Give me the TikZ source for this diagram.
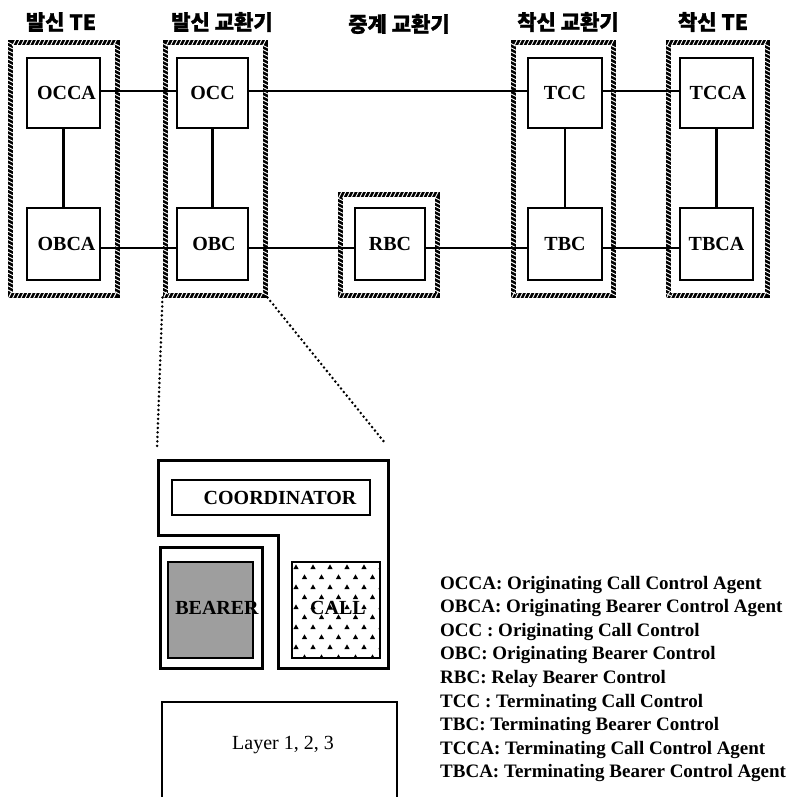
\documentclass[tikz,border=0pt]{standalone}
\usepackage{fontspec}
\usetikzlibrary{decorations.markings}
\setmainfont{Liberation Serif}
\newfontfamily\kr{Noto Sans CJK KR}[BoldFeatures={FakeBold=1.2}]
\begin{document}
\begin{tikzpicture}[x=1pt,y=-1pt,
  grp/.style={draw=black, line width=5pt, rectangle, inner sep=0pt,
    postaction={decorate, decoration={markings,
      mark=between positions 0 and 1 step 4.2pt with {\draw[white, line width=0.9pt] (-1.6pt,-3.2pt) -- (1.6pt,3.2pt);}}}},
  box/.style={draw=black, line width=2.6pt, rectangle, inner sep=0pt, fill=white,
    font=\fontsize{20}{24}\selectfont\bfseries},
  conn/.style={line width=2.2pt},
  hdr/.style={font=\kr\bfseries\fontsize{21}{24}\selectfont, inner sep=0pt},
  zoomline/.style={line width=2.8pt, line cap=round, dash pattern=on 0pt off 4.5pt},
  thickline/.style={line width=3pt},
  lbl/.style={font=\fontsize{20}{24}\selectfont\bfseries, inner sep=0pt},
  legend/.style={font=\fontsize{19}{23}\selectfont\bfseries, inner sep=0pt, anchor=base west}
]
\useasboundingbox (0,0) rectangle (801,797);

% headers
\node[hdr] (h1) at (61,22) {발신 TE};
\node[hdr] (h2) at (222,22) {발신 교환기};
\node[hdr] (h3) at (399,24) {중계 교환기};
\node[hdr] (h4) at (568,22) {착신 교환기};
\node[hdr] (h5) at (713,22) {착신 TE};

% group frames
\node[grp, minimum width=107pt, minimum height=252pt] (G1) at (63.5,169) {};
\node[grp, minimum width=100pt, minimum height=252pt] (G2) at (215,169) {};
\node[grp, minimum width=97pt, minimum height=100pt] (G3) at (388.5,245) {};
\node[grp, minimum width=100pt, minimum height=252pt] (G4) at (563,169) {};
\node[grp, minimum width=99pt, minimum height=252pt] (G5) at (717.5,169) {};

% boxes
\node[box, minimum width=73pt, minimum height=70pt] (OCCA) at (63.5,93) {\hspace*{6pt}OCCA};
\node[box, minimum width=73pt, minimum height=72pt] (OBCA) at (63.5,244) {\hspace*{6pt}OBCA};
\node[box, minimum width=71pt, minimum height=70pt] (OCC) at (212.5,93) {OCC};
\node[box, minimum width=71pt, minimum height=72pt] (OBC) at (212.5,244) {\hspace*{3pt}OBC};
\node[box, minimum width=70pt, minimum height=72pt] (RBC) at (390,244) {RBC};
\node[box, minimum width=74pt, minimum height=70pt] (TCC) at (565,93) {TCC};
\node[box, minimum width=74pt, minimum height=72pt] (TBC) at (565,244) {TBC};
\node[box, minimum width=73pt, minimum height=70pt] (TCCA) at (716.5,93) {\hspace*{3pt}TCCA};
\node[box, minimum width=73pt, minimum height=72pt] (TBCA) at (716.5,244) {TBCA};

\draw[conn] ([yshift=2pt]OCCA.east) -- ([yshift=2pt]OCC.west);
\draw[conn] ([yshift=2pt]OCC.east) -- ([yshift=2pt]TCC.west);
\draw[conn] ([yshift=2pt]TCC.east) -- ([yshift=2pt]TCCA.west);
\draw[conn] ([yshift=-4pt]OBCA.east) -- ([yshift=-4pt]OBC.west);
\draw[conn] ([yshift=-4pt]OBC.east) -- ([yshift=-4pt]RBC.west);
\draw[conn] ([yshift=-4pt]RBC.east) -- ([yshift=-4pt]TBC.west);
\draw[conn] ([yshift=-4pt]TBC.east) -- ([yshift=-4pt]TBCA.west);
\draw[conn] (OCCA.south) -- (OBCA.north);
\draw[conn] (OCC.south) -- (OBC.north);
\draw[conn] (TCC.south) -- (TBC.north);
\draw[conn] (TCCA.south) -- (TBCA.north);

% zoom lines
\coordinate (Z1) at (157,450);
\coordinate (Z2) at (385,443);
\draw[zoomline] (G2.south west) -- (Z1);
\draw[zoomline] (G2.south east) -- (Z2);

% detail
\draw[thickline] (158,460) -- (388,460) -- (388,668) -- (278,668) -- (278,535) -- (158,535) -- cycle;
\draw[line width=2.5pt] (172,480) rectangle (370,515);
\node[lbl] (coord) at (280,498) {COORDINATOR};
\draw[thickline] (160,547) rectangle (262,668);
\draw[line width=2.5pt, fill=black!38] (168,562) rectangle (253,658);
\draw[line width=2.5pt, fill=white] (292,562) rectangle (380,658);
\begin{scope}
  \clip (293,563) rectangle (379,657);
  \foreach \r in {0,...,9} {
    \pgfmathsetmacro{\yy}{567+10*\r}
    \pgfmathsetmacro{\off}{mod(\r,2)*8.5}
    \foreach \c in {0,...,5} {
      \pgfmathsetmacro{\xx}{296+\off+17*\c}
      \fill (\xx-2.6,\yy+2) -- (\xx,\yy-2.6) -- (\xx+2.6,\yy+2) -- cycle;
    }
  }
\end{scope}
\node[lbl] (bearer) at (217,608) {BEARER};
\node[lbl] (call) at (338,608) {CALL};
\draw[line width=2.5pt] (162,800) -- (162,702) -- (397,702) -- (397,800);
\node[font=\fontsize{20}{24}\selectfont, inner sep=0pt] (layer) at (283,745) {Layer 1, 2, 3};

% legend
\foreach \t [count=\i from 0] in {
  OCCA: Originating Call Control Agent,
  OBCA: Originating Bearer Control Agent,
  OCC : Originating Call Control,
  OBC: Originating Bearer Control,
  RBC: Relay Bearer Control,
  TCC : Terminating Call Control,
  TBC: Terminating Bearer Control,
  TCCA: Terminating Call Control Agent,
  TBCA: Terminating Bearer Control Agent} {
  \node[legend] (leg\i) at (440,589+23.6*\i) {\t};
}
\end{tikzpicture}
\end{document}
